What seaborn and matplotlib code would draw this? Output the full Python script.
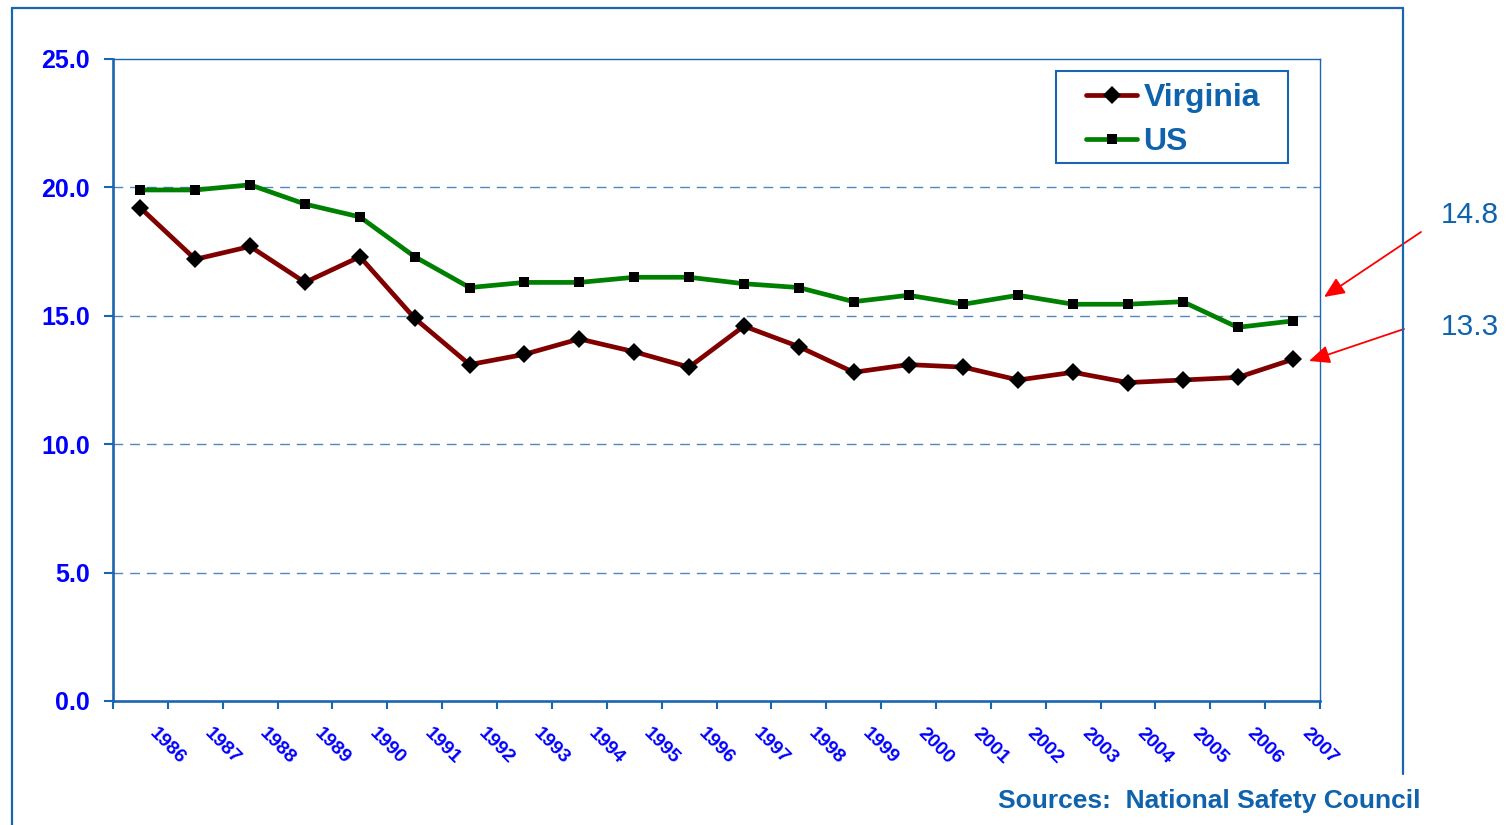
import matplotlib
matplotlib.use('Agg')
import matplotlib.pyplot as plt
import matplotlib.transforms as mtransforms
from matplotlib.lines import Line2D
from matplotlib.patches import Rectangle, FancyArrowPatch
import seaborn as sns
import pandas as pd
import numpy as np

# ---- data ----
years = [str(y) for y in range(1986, 2008)]
virginia = [19.2, 17.2, 17.7, 16.3, 17.3, 14.9, 13.1, 13.5, 14.1, 13.6, 13.0,
            14.6, 13.8, 12.8, 13.1, 13.0, 12.5, 12.8, 12.4, 12.5, 12.6, 13.3]
us = [19.9, 19.9, 20.1, 19.35, 18.85, 17.3, 16.1, 16.3, 16.3, 16.5, 16.5,
      16.25, 16.1, 15.55, 15.8, 15.45, 15.8, 15.45, 15.45, 15.55, 14.55, 14.8]
y_ticks = [0, 5, 10, 15, 20, 25]
series_names = ["Virginia", "US"]
callouts = ["14.8", "13.3"]
source_text = "Sources:  National Safety Council"

# ---- style ----
sns.set_theme(style="white")
plt.rcParams['font.family'] = ['Liberation Sans', 'DejaVu Sans']

W, H = 1511, 825
AXIS = '#1A65B0'
GRID = '#4F86C6'
TICKTXT = '#0000FF'
TXT = '#0F62AC'
VA_COL = '#800000'
US_COL = '#008000'

fig = plt.figure(figsize=(W / 100, H / 100), dpi=100)
fig.patch.set_facecolor('white')
ax = fig.add_axes([113 / W, (H - 701) / H, (1320 - 113) / W, (701 - 59) / H])

df = pd.DataFrame({'pos': np.arange(len(years)), 'year': years,
                   'Virginia': virginia, 'US': us})

sns.lineplot(data=df, x='pos', y='US', ax=ax, color=US_COL, lw=3.4,
             marker='s', ms=7.4, mfc='black', mec='black', mew=0, label=None)
sns.lineplot(data=df, x='pos', y='Virginia', ax=ax, color=VA_COL, lw=3.4,
             marker='D', ms=8.8, mfc='black', mec='black', mew=0, label=None)

ax.set_xlim(-0.5, len(years) - 0.5)
ax.set_ylim(y_ticks[0], y_ticks[-1])
ax.set_xlabel('')
ax.set_ylabel('')
if ax.get_legend():
    ax.get_legend().remove()

# y axis
ax.set_yticks(y_ticks)
ax.set_yticklabels([f"{v:.1f}" for v in y_ticks], fontsize=18,
                   fontweight='bold', color=TICKTXT)
ax.tick_params(axis='y', which='major', left=True, length=6.5, width=1.5,
               color=AXIS, pad=10, direction='out')
for v in y_ticks[1:-1]:
    ax.axhline(v, color=GRID, lw=1.0, ls=(0, (7, 5)), zorder=0)

# x axis: tick marks at category boundaries, labels rotated below
ax.set_xticks(np.arange(-0.5, len(years), 1.0))
ax.tick_params(axis='x', which='major', bottom=True, length=5.5, width=1.5,
               color=AXIS, direction='out', labelbottom=False)
offset = mtransforms.ScaledTranslation(27 / 100, -45 / 100, fig.dpi_scale_trans)
for i, yr in enumerate(years):
    ax.text(i, 0, yr, transform=ax.get_xaxis_transform() + offset,
            rotation=-45, rotation_mode='anchor', ha='center', va='center',
            fontsize=14, fontweight='bold', color=TICKTXT, clip_on=False)

for side, lw in [('left', 1.9), ('bottom', 1.9), ('top', 1.0), ('right', 1.0)]:
    ax.spines[side].set_visible(True)
    ax.spines[side].set_color(AXIS)
    ax.spines[side].set_linewidth(lw)

# legend
handles = [
    Line2D([], [], color=VA_COL, lw=3.4, marker='D', ms=9.2, mfc='black', mec='black', mew=0),
    Line2D([], [], color=US_COL, lw=3.4, marker='s', ms=7.4, mfc='black', mec='black', mew=0),
]
leg = fig.legend(handles, series_names, loc='upper left',
                 bbox_to_anchor=(1086 / W, (H - 83) / H), bbox_transform=fig.transFigure,
                 frameon=False, prop={'size': 23, 'weight': 'bold'},
                 labelcolor=TXT, handlelength=1.6, handletextpad=0.2,
                 labelspacing=0.45, borderpad=0, borderaxespad=0)
fig.add_artist(Rectangle((1056 / W, (H - 163) / H), 232 / W, 92 / H,
                         transform=fig.transFigure, fill=False, ec=AXIS, lw=1.5))

# outer slide frame
fig.add_artist(Line2D([12 / W, 12 / W], [0, (H - 8) / H], transform=fig.transFigure, color=AXIS, lw=1.6))
fig.add_artist(Line2D([12 / W, 1403 / W], [(H - 8) / H, (H - 8) / H], transform=fig.transFigure, color=AXIS, lw=1.6))
fig.add_artist(Line2D([1403 / W, 1403 / W], [(H - 8) / H, (H - 774) / H], transform=fig.transFigure, color=AXIS, lw=1.6))

# callouts
for txt, ty, tail, tip in [(callouts[0], 215, (1421, 232), (1324, 297)),
                           (callouts[1], 327, (1404, 329), (1309, 361))]:
    fig.text(1470 / W, (H - ty) / H, txt, ha='center', va='center',
             fontsize=21.5, color=TXT)
    arr = FancyArrowPatch((tail[0] / W, (H - tail[1]) / H), (tip[0] / W, (H - tip[1]) / H),
                          transform=fig.transFigure,
                          arrowstyle='-|>,head_length=0.5,head_width=0.22',
                          mutation_scale=25, color='red', lw=1.3,
                          shrinkA=0, shrinkB=0)
    fig.add_artist(arr)

fig.text(1420 / W, (H - 801) / H, source_text, ha='right', va='center',
         fontsize=19, fontweight='bold', color=TXT)

fig.savefig('out.png', dpi=100, facecolor='white')
